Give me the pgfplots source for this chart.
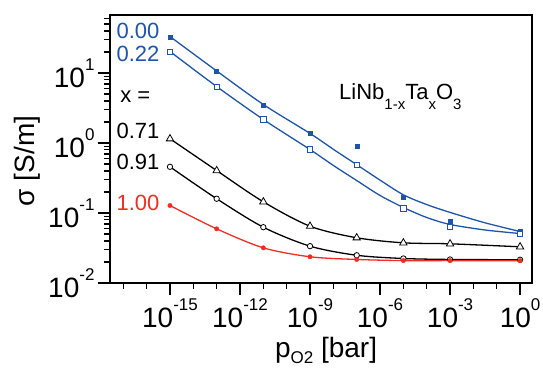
\documentclass[border=0pt]{standalone}
\usepackage{pgfplots}
\pgfplotsset{compat=1.18}
\usepackage{fontspec}
\setmainfont{Liberation Sans}
\definecolor{myblue}{RGB}{30,85,170}
\definecolor{myred}{RGB}{240,45,35}
\newcommand\sups[1]{\raisebox{0.6em}{\fontsize{17}{17}\selectfont #1}}
\newcommand\subs[1]{\raisebox{-10pt}{\fontsize{15}{15}\selectfont #1}}
\begin{document}
\begin{tikzpicture}
\path[use as bounding box] (-110pt,-84pt) rectangle (433pt,283pt);
\begin{axis}[
  at={(0pt,0pt)}, anchor=south west,
  scale only axis, width=422pt, height=268pt,
  xmode=log, ymode=log,
  xmin=2.69e-18, xmax=3.24, ymin=0.01, ymax=67.4,
  axis line style={line width=1.6pt},
  tick align=outside, tick pos=left,
  major tick length=12pt, minor tick length=6pt,
  every tick/.style={line width=1.3pt, black},
  xtick={1e-15,1e-12,1e-9,1e-6,1e-3,1},
  xticklabels={10\sups{-15},10\sups{-12},10\sups{-9},10\sups{-6},10\sups{-3},10\sups{0}},
  minor xtick={1e-17,1e-16,1e-14,1e-13,1e-11,1e-10,1e-8,1e-7,1e-5,1e-4,1e-2,1e-1},
  ytick={0.01,0.1,1,10},
  yticklabels={10\sups{-2},10\sups{-1},10\sups{0},10\sups{1}},
  minor ytick={0.02,0.03,0.04,0.05,0.06,0.07,0.08,0.09,0.2,0.3,0.4,0.5,0.6,0.7,0.8,0.9,2,3,4,5,6,7,8,9,20,30,40,50,60},
  tick label style={font=\fontsize{28}{30}\selectfont},
  xlabel={p\raisebox{-6pt}{\fontsize{17}{17}\selectfont O2} [bar]},
  xlabel style={at={(axis description cs:0.512,-0.278)}, anchor=base, font=\fontsize{28}{30}\selectfont},
  ylabel={σ [S/m]},
  ylabel style={at={(axis description cs:-0.180,0.455)}, anchor=base, font=\fontsize{28}{30}\selectfont},
  clip=false,
]
% fit lines
\addplot[myblue, line width=1.3pt, smooth, no marks] coordinates {
 (1e-15,33.2) (1e-13,10.7) (1e-11,3.55) (1e-9,1.37) (1e-8,0.813) (1e-7,0.490) (1e-6,0.295) (1e-5,0.182) (1e-4,0.132) (1e-3,0.102) (3.16e-2,0.0724) (1,0.0544)};
\addplot[myblue, line width=1.3pt, smooth, no marks] coordinates {
 (1e-15,20.3) (1e-13,6.41) (1e-11,2.17) (1e-9,0.807) (1e-8,0.478) (1e-7,0.291) (1e-6,0.178) (1e-5,0.120) (1e-4,0.0863) (1e-3,0.0686) (3.16e-2,0.0572) (1,0.0509)};
\addplot[black, line width=1.3pt, smooth, no marks] coordinates {
 (1e-15,1.15) (1e-13,0.404) (1e-11,0.1445) (1e-9,0.0648) (1e-7,0.0443) (1e-5,0.0375) (1e-3,0.0363) (1,0.0329)};
\addplot[black, line width=1.3pt, smooth, no marks] coordinates {
 (1e-15,0.457) (1e-13,0.160) (1e-11,0.0627) (1e-9,0.0336) (1e-7,0.0249) (1e-5,0.0224) (1e-3,0.0217) (1,0.0215)};
\addplot[myred, line width=1.3pt, smooth, no marks] coordinates {
 (1e-15,0.128) (1e-13,0.0594) (1e-11,0.0318) (1e-9,0.0237) (1e-7,0.0217) (1e-5,0.0209) (1e-3,0.0209) (1,0.0208)};
% data points
\addplot[only marks, mark=square*, mark size=2pt, myblue] coordinates {
 (1e-15,32.9) (1e-13,10.6) (1e-11,3.47) (1e-9,1.40) (1e-7,0.90) (1e-5,0.168) (1e-3,0.0764) (1,0.0550)};
\addplot[only marks, mark=square*, mark size=2.7pt, draw=myblue, fill=white, mark options={line width=0.9pt}] coordinates {
 (1e-15,20.1) (1e-13,6.35) (1e-11,2.17) (1e-9,0.807) (1e-7,0.482) (1e-5,0.116) (1e-3,0.0627) (1,0.0505)};
\addplot[only marks, mark=triangle*, mark size=4.2pt, draw=black, fill=white, mark options={line width=0.8pt}] coordinates {
 (1e-15,1.15) (1e-13,0.404) (1e-11,0.1445) (1e-9,0.0648) (1e-7,0.0443) (1e-5,0.0375) (1e-3,0.0363) (1,0.0329)};
\addplot[only marks, mark=*, mark size=2.7pt, draw=black, fill=white, mark options={line width=0.8pt}] coordinates {
 (1e-15,0.457) (1e-13,0.160) (1e-11,0.0627) (1e-9,0.0336) (1e-7,0.0249) (1e-5,0.0224) (1e-3,0.0217) (1,0.0215)};
\addplot[only marks, mark=*, mark size=2.2pt, myred] coordinates {
 (1e-15,0.128) (1e-13,0.0594) (1e-11,0.0318) (1e-9,0.0237) (1e-7,0.0217) (1e-5,0.0209) (1e-3,0.0209) (1,0.0208)};
% annotations
\node[anchor=base east, text=myblue, font=\fontsize{22}{24}\selectfont] at (axis description cs:0.1256,0.914) {0.00};
\node[anchor=base east, text=myblue, font=\fontsize{22}{24}\selectfont] at (axis description cs:0.1256,0.825) {0.22};
\node[anchor=base west, inner sep=0pt, text=black, font=\fontsize{22}{24}\selectfont] at (axis description cs:0.024,0.675) {x =};
\node[anchor=base east, text=black, font=\fontsize{22}{24}\selectfont] at (axis description cs:0.1256,0.541) {0.71};
\node[anchor=base east, text=black, font=\fontsize{22}{24}\selectfont] at (axis description cs:0.1256,0.422) {0.91};
\node[anchor=base east, text=myred, font=\fontsize{22}{24}\selectfont] at (axis description cs:0.1256,0.272) {1.00};
\node[anchor=base west, inner sep=0pt, font=\fontsize{22}{24}\selectfont] at (axis description cs:0.5427,0.683) {LiNb\subs{1-x}Ta\subs{x}O\subs{3}};
\end{axis}
\end{tikzpicture}
\end{document}
